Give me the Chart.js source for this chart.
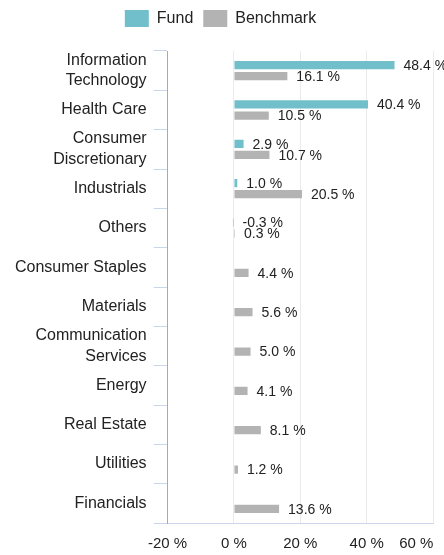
<!DOCTYPE html>
<html>
<head>
<meta charset="utf-8">
<script src="https://cdn.jsdelivr.net/npm/chart.js@4.4.1/dist/chart.umd.min.js"></script>
<style>
    html, body { margin: 0; padding: 0; background: #fff; }
    #wrap { width: 444px; height: 555px; }
</style>
</head>
<body>
<div id="wrap"><canvas id="sectorChart"></canvas></div>
<script>
const sectors = [
    ['Information', 'Technology'],
    'Health Care',
    ['Consumer', 'Discretionary'],
    'Industrials',
    'Others',
    'Consumer Staples',
    'Materials',
    ['Communication', 'Services'],
    'Energy',
    'Real Estate',
    'Utilities',
    'Financials'
];
const fundWeights = [48.4, 40.4, 2.9, 1.0, -0.3, null, null, null, null, null, null, null];
const benchmarkWeights = [16.1, 10.5, 10.7, 20.5, 0.3, 4.4, 5.6, 5.0, 4.1, 8.1, 1.2, 13.6];
const xTicks = [-20, 0, 20, 40, 60];

const fontFamily = '"Liberation Sans", Arial, Helvetica, sans-serif';

// value labels to the right of each bar
const barLabels = {
    id: 'barLabels',
    afterDatasetsDraw(chart) {
        const ctx = chart.ctx;
        ctx.save();
        ctx.font = '14px ' + fontFamily;
        ctx.fillStyle = '#222';
        ctx.textAlign = 'left';
        ctx.textBaseline = 'middle';
        chart.data.datasets.forEach((ds, i) => {
            chart.getDatasetMeta(i).data.forEach((bar, j) => {
                const v = ds.data[j];
                if (v === null || v === undefined) return;
                const x = Math.max(bar.x, bar.base) + 9;
                ctx.fillText(v.toFixed(1) + ' %', x, bar.y + 1);
            });
        });
        ctx.restore();
    }
};

// extra gap under the legend
const legendGap = {
    id: 'legendGap',
    beforeInit(chart) {
        const origFit = chart.legend.fit;
        chart.legend.fit = function () {
            origFit.bind(chart.legend)();
            this.height += 14;
        };
    }
};

const ctx = document.getElementById('sectorChart').getContext('2d');
const sectorChart = new Chart(ctx, {
    type: 'bar',
    data: {
        labels: sectors,
        datasets: [{
            label: 'Fund',
            data: fundWeights,
            backgroundColor: '#72bfcc',
            borderWidth: 0,
            barPercentage: 0.75,
            categoryPercentage: 0.56
        }, {
            label: 'Benchmark',
            data: benchmarkWeights,
            backgroundColor: '#b3b3b3',
            borderWidth: 0,
            barPercentage: 0.75,
            categoryPercentage: 0.56
        }]
    },
    options: {
        indexAxis: 'y',
        responsive: true,
        maintainAspectRatio: false,
        animation: false,
        layout: {
            padding: { left: 8, right: 11, top: 0, bottom: -10 }
        },
        plugins: {
            legend: {
                position: 'top',
                labels: {
                    boxWidth: 24,
                    boxHeight: 17,
                    padding: 10,
                    color: '#222',
                    font: { size: 16, family: fontFamily }
                }
            },
            tooltip: { enabled: false }
        },
        scales: {
            x: {
                type: 'linear',
                min: xTicks[0],
                max: xTicks[xTicks.length - 1],
                afterBuildTicks: (scale) => {
                    scale.ticks = xTicks.map(v => ({ value: v }));
                },
                afterFit: (scale) => {
                    scale.paddingRight = 0;
                },
                grid: {
                    color: '#ebebeb',
                    drawTicks: false
                },
                border: { color: '#ccd6eb' },
                ticks: {
                    autoSkip: false,
                    padding: 12,
                    maxRotation: 0,
                    minRotation: 0,
                    color: '#222',
                    font: { size: 15, family: fontFamily },
                    callback: function (value) {
                        // last label sits flush with the plot edge
                        if (value === xTicks[xTicks.length - 1]) {
                            return value + ' %\u2007\u2007\u2007\u2007';
                        }
                        return value + ' %';
                    }
                }
            },
            y: {
                grid: {
                    offset: true,
                    drawOnChartArea: false,
                    drawTicks: true,
                    tickLength: 14,
                    color: '#ccd6eb'
                },
                border: { color: '#aaaaaa' },
                ticks: {
                    autoSkip: false,
                    padding: 7,
                    color: '#222',
                    font: { size: 16, family: fontFamily, lineHeight: 1.3 }
                }
            }
        }
    },
    plugins: [barLabels, legendGap]
});
</script>
</body>
</html>
